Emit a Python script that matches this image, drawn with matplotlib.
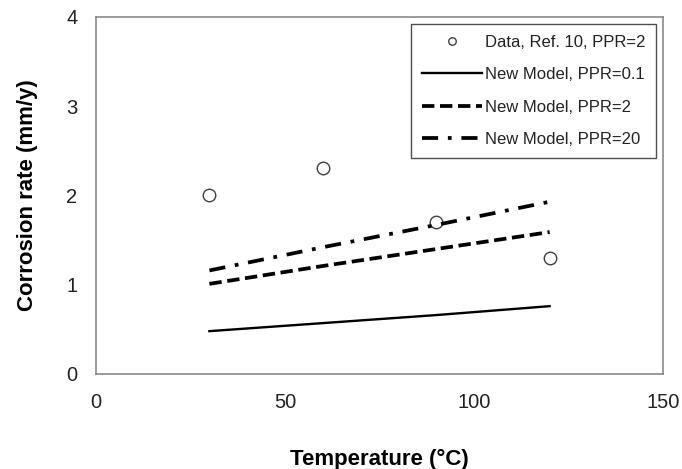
import matplotlib
matplotlib.use("Agg")
import matplotlib.pyplot as plt

# -- Data --
temp_data = [30, 60, 90, 120]
rate_data = [2.0, 2.31, 1.70, 1.30]

temp_model = [30, 60, 90, 120]
rate_ppr01 = [0.48, 0.57, 0.66, 0.76]
rate_ppr2 = [1.01, 1.21, 1.40, 1.59]
rate_ppr20 = [1.16, 1.42, 1.67, 1.93]

x_ticks = [0, 50, 100, 150]
y_ticks = [0, 1, 2, 3, 4]

plt.rcParams['font.family'] = ['Liberation Sans', 'DejaVu Sans']

# -- Plot --
fig = plt.figure(figsize=(6.82, 4.69), dpi=100, facecolor='white')
ax = fig.add_axes([0.1408, 0.2026, 0.8314, 0.7612])

ax.plot(temp_data, rate_data, linestyle='none', marker='o', markersize=9,
        markerfacecolor='white', markeredgecolor='#404040', markeredgewidth=1.0,
        label='Data, Ref. 10, PPR=2')
ax.plot(temp_model, rate_ppr01, color='black', linewidth=1.7, label='New Model, PPR=0.1')
ax.plot(temp_model, rate_ppr2, color='black', linewidth=2.7, dashes=(3.3, 1.5),
        label='New Model, PPR=2')
ax.plot(temp_model, rate_ppr20, color='black', linewidth=2.7, dashes=(4.3, 2.6, 1, 2.6),
        label='New Model, PPR=20')

# -- Cosmetics --
ax.set_xlim(0, 150)
ax.set_ylim(0, 4)
ax.set_xticks(x_ticks)
ax.set_yticks(y_ticks)
ax.tick_params(length=0, labelsize=14.5, colors='#222222')
ax.tick_params(axis='x', pad=14)
ax.tick_params(axis='y', pad=13.5)
for s in ax.spines.values():
    s.set_color('#808080')
    s.set_linewidth(1.1)

ax.set_xlabel('Temperature (°C)', fontsize=16, fontweight='bold', labelpad=26)
ax.set_ylabel('Corrosion rate (mm/y)', fontsize=16, fontweight='bold', labelpad=20)

leg = ax.legend(loc='upper right', bbox_to_anchor=(0.9877, 0.981), fontsize=12,
                frameon=True, fancybox=False, handlelength=3.6, handletextpad=0.15,
                labelspacing=1.05, borderpad=0.65, borderaxespad=0, markerscale=0.6)
leg.get_frame().set_edgecolor('#222222')
leg.get_frame().set_linewidth(1.0)
for t in leg.get_texts():
    t.set_color('#222222')

fig.savefig('out.png', dpi=100, facecolor='white')
